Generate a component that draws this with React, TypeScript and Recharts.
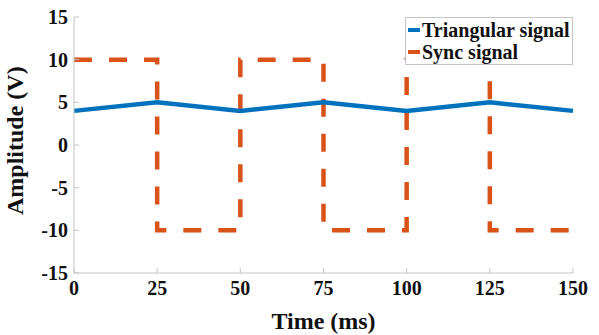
import React from "react";
import {
  LineChart,
  Line,
  XAxis,
  YAxis,
  Legend,
} from "recharts";

// time axis (ms) and the two signals sampled at each corner
const timeMs = [0, 25, 50, 75, 100, 125, 150];
const triangular = [4, 5, 4, 5, 4, 5, 4];
const sync = [10, -10, 10, -10, 10, -10, -10];

const xTicks = [0, 25, 50, 75, 100, 125, 150];
const yTicks = [-15, -10, -5, 0, 5, 10, 15];

const seriesNames = ["Triangular signal", "Sync signal"];
const seriesColors = ["#0072BD", "#D95319"];

const data = timeMs.map((t, i) => ({
  t,
  tri: triangular[i],
  sync: sync[i],
}));

const FONT = "'Liberation Serif', 'Times New Roman', serif";
const AXIS = "#c4c4c4";

const tickStyle = { fontFamily: FONT, fontWeight: 700, fontSize: 20, fill: "#111" };

const LegendBox = () => (
  <div
    style={{
      border: `1px solid ${AXIS}`,
      background: "#fff",
      width: 168,
      height: 48,
      boxSizing: "border-box",
      padding: "1px 0 0 2px",
      fontFamily: FONT,
      fontWeight: 700,
      fontSize: 20,
      lineHeight: "22px",
      color: "#111",
    }}
  >
    {seriesNames.map((name, i) => (
      <div key={name} style={{ display: "flex", alignItems: "center" }}>
        <span
          style={{
            display: "inline-block",
            width: 12,
            height: 4,
            background: seriesColors[i],
            marginRight: 2,
          }}
        />
        <span>{name}</span>
      </div>
    ))}
  </div>
);

const App = () => {
  return (
    <div style={{ position: "absolute", left: 0, top: 0, background: "#fff" }}>
      <LineChart
        width={599}
        height={335}
        data={data}
        margin={{ top: 17, right: 26, bottom: 0, left: 0 }}
      >
        <XAxis
          dataKey="t"
          type="number"
          domain={[0, 150]}
          ticks={xTicks}
          interval={0}
          height={62}
          stroke={AXIS}
          tickSize={-5}
          tickMargin={13}
          tick={tickStyle}
          label={{
            value: "Time (ms)",
            position: "insideBottom",
            offset: 6,
            style: { fontFamily: FONT, fontWeight: 700, fontSize: 24, fill: "#111" },
          }}
        />
        <XAxis
          xAxisId="top"
          dataKey="t"
          type="number"
          orientation="top"
          domain={[0, 150]}
          ticks={xTicks}
          height={0}
          stroke={AXIS}
          tickSize={-5}
          tickFormatter={() => ""}
        />
        <YAxis
          type="number"
          domain={[-15, 15]}
          ticks={yTicks}
          interval={0}
          width={74}
          stroke={AXIS}
          tickSize={-5}
          tickMargin={11}
          tick={tickStyle}
          label={{
            value: "Amplitude (V)",
            angle: -90,
            position: "insideLeft",
            offset: 14,
            dy: 70,
            style: { fontFamily: FONT, fontWeight: 700, fontSize: 24, fill: "#111" },
          }}
        />
        <YAxis
          yAxisId="right"
          type="number"
          orientation="right"
          domain={[-15, 15]}
          ticks={yTicks}
          width={0}
          stroke={AXIS}
          tickSize={-5}
          tickFormatter={() => ""}
        />
        <Line
          type="stepAfter"
          dataKey="sync"
          name={seriesNames[1]}
          stroke={seriesColors[1]}
          strokeWidth={4.5}
          strokeDasharray="18 17"
          dot={false}
          isAnimationActive={false}
        />
        <Line
          type="linear"
          dataKey="tri"
          name={seriesNames[0]}
          stroke={seriesColors[0]}
          strokeWidth={4.5}
          dot={false}
          isAnimationActive={false}
        />
        <Legend
          layout="vertical"
          align="center"
          verticalAlign="middle"
          content={<LegendBox />}
          wrapperStyle={{ position: "absolute", top: 17, left: 405, width: 168 }}
        />
      </LineChart>
    </div>
  );
};

export default App;
